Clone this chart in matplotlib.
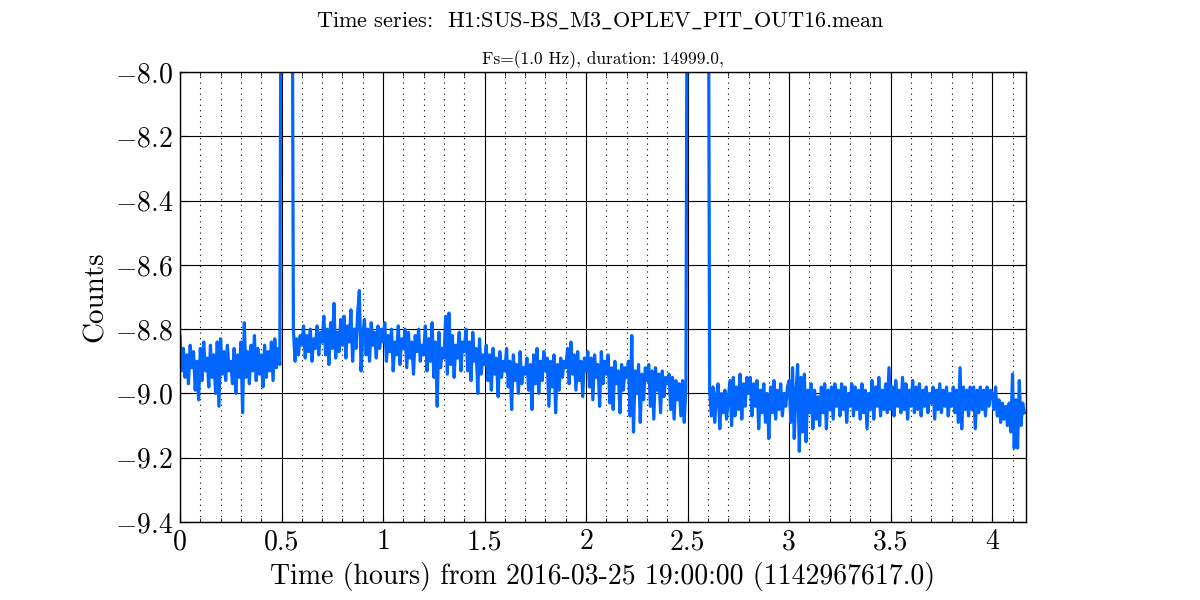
import numpy as np
import matplotlib
matplotlib.use("Agg")
import matplotlib.pyplot as plt
from matplotlib.ticker import MultipleLocator, FuncFormatter

plt.rcParams['font.family'] = 'serif'
plt.rcParams['font.serif'] = ['cmr10', 'DejaVu Serif']
plt.rcParams['mathtext.fontset'] = 'cm'
plt.rcParams['axes.formatter.use_mathtext'] = True

# Samples every 30 s. -7.0 = off-scale (above the top).
step_s = 30
start_gps = "1142967617.0"
duration = 14999.0

vals_h0 = [-8.82,-8.93,-8.86,-8.95,-8.88,-8.97,-8.85,-8.92,-8.87,-8.99,-8.90,-9.02,
           -8.86,-8.96,-8.84,-8.93,-8.89,-8.98,-8.85,-8.95,-8.88,-9.00,-8.84,-9.04,
           -8.83,-8.94,-8.87,-8.96,-8.85,-8.93,-8.90,-8.97,-8.86,-9.00,-8.88,-8.95,
           -8.84,-9.06,-8.78,-8.95,-8.87,-8.97,-8.85,-8.93,-8.82,-8.96,-8.86,-8.94,
           -8.88,-8.98,-8.85,-8.95,-8.87,-8.93,-8.84,-8.96,-8.83,-8.92,-8.86,-8.91]
vals_h1 = [-7.0,-7.0,-7.0,-7.0,-7.0,-7.0,-7.0,-8.80,-8.90,-8.83,-8.88,-8.82,
           -8.85,-8.79,-8.89,-8.82,-8.87,-8.80,-8.90,-8.83,-8.86,-8.79,-8.88,-8.81,
           -8.84,-8.76,-8.88,-8.80,-8.91,-8.78,-8.86,-8.72,-8.89,-8.81,-8.87,-8.77,
           -8.85,-8.76,-8.89,-8.79,-8.84,-8.74,-8.90,-8.80,-8.86,-8.75,-8.68,-8.93,
           -8.82,-8.77,-8.88,-8.80,-8.90,-8.78,-8.85,-8.81,-8.89,-8.79,-8.86,-8.80]
vals_h2 = [-8.84,-8.78,-8.90,-8.82,-8.87,-8.80,-8.93,-8.84,-8.88,-8.79,-8.91,-8.83,
           -8.86,-8.80,-8.92,-8.81,-8.89,-8.84,-8.94,-8.82,-8.87,-8.80,-8.90,-8.85,
           -8.88,-8.79,-8.93,-8.83,-8.90,-8.78,-8.95,-8.84,-9.04,-8.81,-8.92,-8.86,
           -8.89,-8.76,-8.94,-8.75,-8.91,-8.82,-8.95,-8.85,-8.89,-8.81,-8.93,-8.84,
           -8.87,-8.80,-8.93,-8.84,-8.96,-8.81,-8.90,-8.86,-9.00,-8.83,-8.94,-8.88]
vals_h3 = [-8.91,-8.85,-8.96,-8.88,-8.99,-8.86,-8.94,-8.89,-9.01,-8.87,-8.95,-8.90,
           -8.93,-8.86,-8.98,-8.90,-9.05,-8.88,-8.96,-8.91,-9.00,-8.87,-8.97,-8.92,
           -8.94,-8.89,-8.99,-8.91,-9.05,-8.88,-8.97,-8.86,-9.00,-8.90,-8.96,-8.87,
           -8.93,-8.89,-9.04,-8.90,-8.98,-8.88,-9.06,-8.91,-8.99,-8.89,-8.95,-8.90,
           -8.92,-8.86,-8.97,-8.84,-8.94,-8.88,-8.99,-8.87,-8.96,-8.90,-9.01,-8.89]
vals_h4 = [-8.93,-8.87,-8.98,-8.89,-9.02,-8.88,-8.95,-8.91,-9.04,-8.87,-8.97,-8.90,
           -8.94,-8.88,-9.03,-8.92,-9.05,-8.90,-8.97,-8.93,-9.06,-8.91,-8.99,-8.92,
           -8.95,-8.90,-9.07,-8.82,-9.12,-8.93,-9.00,-8.91,-9.09,-8.94,-9.02,-8.92,
           -8.96,-8.91,-9.04,-8.93,-9.08,-8.92,-8.99,-8.94,-9.06,-8.93,-9.01,-8.95,
           -8.97,-8.94,-9.05,-8.95,-9.08,-8.96,-9.02,-8.97,-9.07,-8.96,-9.09,-8.98]
vals_h5 = [-7.0,-7.0,-7.0,-7.0,-7.0,-7.0,-7.0,-7.0,-7.0,-7.0,-7.0,-7.0,
           -7.0,-8.99,-9.07,-8.98,-9.09,-9.01,-8.97,-9.11,-9.00,-9.06,-8.99,-9.08,
           -9.02,-8.96,-9.10,-8.95,-9.07,-8.98,-9.05,-8.94,-9.08,-8.97,-9.04,-8.95,
           -9.00,-8.95,-9.07,-8.97,-9.04,-8.96,-9.11,-8.99,-9.06,-8.97,-9.09,-9.00,
           -9.14,-8.98,-9.06,-8.96,-9.08,-8.99,-9.05,-8.97,-9.07,-9.00,-9.04,-8.98]
vals_h6 = [-8.96,-9.09,-8.92,-9.14,-9.00,-8.91,-9.18,-8.95,-9.12,-8.94,-9.15,-8.99,
           -9.06,-8.97,-9.11,-8.99,-9.08,-9.01,-9.10,-8.98,-9.06,-8.97,-9.11,-8.99,
           -9.05,-8.98,-9.08,-8.97,-9.04,-8.99,-9.07,-8.97,-9.05,-8.98,-9.09,-9.00,
           -9.04,-8.97,-9.07,-8.98,-9.05,-8.99,-9.08,-8.97,-9.06,-8.99,-9.11,-9.00,
           -9.05,-8.96,-9.08,-8.98,-9.04,-8.95,-9.07,-8.99,-9.05,-8.97,-9.06,-8.92]
vals_h7 = [-9.05,-8.98,-9.07,-8.96,-9.04,-8.99,-9.06,-8.95,-9.05,-8.97,-9.08,-8.99,
           -9.04,-8.96,-9.06,-8.98,-9.05,-8.97,-9.07,-8.99,-9.04,-8.98,-9.06,-9.00,
           -9.03,-8.98,-9.08,-8.99,-9.05,-8.97,-9.06,-8.99,-9.04,-8.98,-9.07,-9.00,
           -9.04,-8.98,-9.06,-8.99,-9.09,-8.92,-9.11,-8.98,-9.05,-8.99,-9.07,-8.98,
           -9.05,-8.98,-9.11,-8.99,-9.06,-8.98,-9.05,-8.99,-9.07,-8.98,-9.04,-8.99]
vals_h8 = [-9.00,-9.05,-8.98,-9.07,-9.02,-9.09,-9.03,-9.08,-9.04,-9.10,-9.03,-9.12,
           -8.94,-9.17,-9.02,-9.17,-8.96,-9.10,-9.03,-9.06]

values = np.array(vals_h0 + vals_h1 + vals_h2 + vals_h3 + vals_h4 +
                  vals_h5 + vals_h6 + vals_h7 + vals_h8)
t_hours = np.arange(len(values)) * step_s / 3600.0

fig = plt.figure(figsize=(12, 6), dpi=100)
ax = fig.add_axes([0.15, 0.13, 0.705, 0.75])
ax.plot(t_hours, values, color='#0066ff', lw=2.3)

ax.set_xlim(0, duration / 3600.0)
ax.set_ylim(-9.4, -8.0)
ax.xaxis.set_major_locator(MultipleLocator(0.5))
ax.xaxis.set_minor_locator(MultipleLocator(0.1))
ax.yaxis.set_major_locator(MultipleLocator(0.2))
ax.xaxis.set_major_formatter(FuncFormatter(lambda v, p: '%g' % v))
ax.grid(which='major', color='black', ls='-', lw=0.8)
ax.grid(which='minor', axis='x', color='black', ls=(0, (1, 4)), lw=0.8)
ax.tick_params(which='both', direction='in', top=True, right=True)
ax.tick_params(which='major', length=6, labelsize=20, pad=5)
ax.tick_params(which='minor', length=3)
for s in ax.spines.values():
    s.set_linewidth(1.0)

ax.set_xlabel('Time (hours) from 2016-03-25 19:00:00 (%s)' % start_gps, fontsize=20, labelpad=5)
ax.set_ylabel('Counts', fontsize=21, labelpad=4)
ax.set_title(r'Fs=(1.0 Hz), duration: %.1f,' % duration, fontsize=12.5, pad=6)
fig.suptitle(r'Time series:  H1:SUS-BS$\_$M3$\_$OPLEV$\_$PIT$\_$OUT16.mean', fontsize=16, y=0.983)

fig.savefig('out.png', dpi=100)
